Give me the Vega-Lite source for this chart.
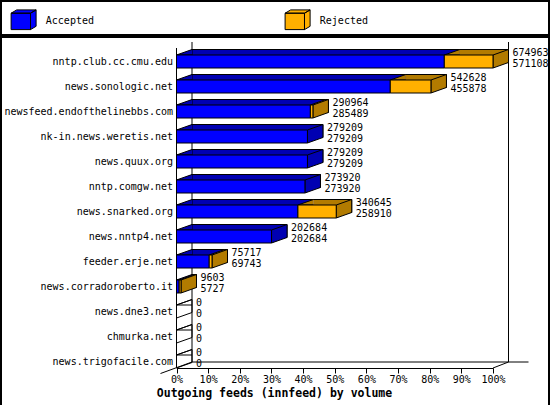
{
  "$schema": "https://vega.github.io/schema/vega-lite/v6.json",
  "padding": 0,
  "spacing": 0,
  "background": "white",
  "config": {
    "view": {"stroke": "black", "strokeWidth": 2},
    "font": "DejaVu Sans Mono",
    "concat": {"spacing": 0}
  },
  "vconcat": [
    {
      "width": 548,
      "height": 34,
      "data": {"values": [{"series": "Accepted"}, {"series": "Rejected"}]},
      "mark": {"type": "point", "filled": true, "opacity": 0},
      "encoding": {
        "x": {"field": "series", "type": "nominal", "axis": null},
        "color": {
          "field": "series",
          "type": "nominal",
          "scale": {"domain": ["Accepted", "Rejected"], "range": ["#0000FF", "#FFB000"]},
          "legend": {
            "title": null,
            "orient": "none",
            "legendX": 14.8,
            "legendY": 15,
            "direction": "horizontal",
            "padding": 0,
            "symbolType": "M-9.7,-8.2 L9.7,-8.2 L9.7,8.2 L-9.7,8.2 Z M-9.7,-8.2 L-4.1,-11.5 L15.3,-11.5 L9.7,-8.2 Z M9.7,-8.2 L15.3,-11.5 L15.3,4.9 L9.7,8.2 Z",
            "symbolSize": 4,
            "labelOffset": 20,
            "columnPadding": 188,
            "labelFont": "DejaVu Sans Mono",
            "labelFontSize": 10,
            "labelColor": "black",
            "symbolOpacity": 1,
            "symbolStrokeColor": "black",
            "symbolStrokeWidth": 1
          }
        }
      }
    },
    {
      "width": 548,
      "height": 369,
      "data": {
        "values": [
          {"host": "nntp.club.cc.cmu.edu", "offered": 674963, "accepted": 571108},
          {"host": "news.sonologic.net", "offered": 542628, "accepted": 455878},
          {"host": "newsfeed.endofthelinebbs.com", "offered": 290964, "accepted": 285489},
          {"host": "nk-in.news.weretis.net", "offered": 279209, "accepted": 279209},
          {"host": "news.quux.org", "offered": 279209, "accepted": 279209},
          {"host": "nntp.comgw.net", "offered": 273920, "accepted": 273920},
          {"host": "news.snarked.org", "offered": 340645, "accepted": 258910},
          {"host": "news.nntp4.net", "offered": 202684, "accepted": 202684},
          {"host": "feeder.erje.net", "offered": 75717, "accepted": 69743},
          {"host": "news.corradoroberto.it", "offered": 9603, "accepted": 5727},
          {"host": "news.dne3.net", "offered": 0, "accepted": 0},
          {"host": "chmurka.net", "offered": 0, "accepted": 0},
          {"host": "news.trigofacile.com", "offered": 0, "accepted": 0}
        ]
      },
      "layer": [
        {
          "data": {"values": [{"lo": 0, "hi": 674963, "first": "nntp.club.cc.cmu.edu", "last": "news.trigofacile.com"}]},
          "mark": {"type": "rule", "color": "black", "strokeWidth": 1, "xOffset": 15.5, "yOffset": -19.5, "y2Offset": 0.5},
          "encoding": {
            "x": {
              "field": "lo",
              "type": "quantitative",
              "scale": {"type": "linear", "domain": [0, 674963], "range": [175.5, 492], "nice": false, "zero": false},
              "axis": {
                "values": [0, 67496.3, 134992.6, 202488.9, 269985.2, 337481.5, 404977.8, 472474.1, 539970.4, 607466.7, 674963],
                "labelExpr": "format(datum.value / 674963 * 100, '.0f') + '%'",
                "offset": -38,
                "grid": false,
                "domain": true,
                "domainColor": "black",
                "domainWidth": 1,
                "ticks": true,
                "tickSize": 5,
                "tickColor": "black",
                "tickWidth": 1,
                "labelFont": "DejaVu Sans Mono",
                "labelFontSize": 10,
                "labelColor": "black",
                "labelPadding": 1,
                "labelFlush": false,
                "labelOverlap": false,
                "title": "Outgoing feeds (innfeed) by volume",
                "titleFont": "DejaVu Sans Mono",
                "titleFontSize": 11.5,
                "titleFontWeight": "bold",
                "titleColor": "black",
                "titleX": 273,
                "titleY": 28.5,
                "titleAlign": "center",
                "titleBaseline": "alphabetic"
              }
            },
            "y": {
              "field": "first",
              "type": "nominal",
              "scale": {
                "type": "band",
                "domain": ["nntp.club.cc.cmu.edu", "news.sonologic.net", "newsfeed.endofthelinebbs.com", "nk-in.news.weretis.net", "news.quux.org", "nntp.comgw.net", "news.snarked.org", "news.nntp4.net", "feeder.erje.net", "news.corradoroberto.it", "news.dne3.net", "chmurka.net", "news.trigofacile.com"],
                "range": [18, 331],
                "paddingInner": 0.48,
                "paddingOuter": 0
              },
              "axis": {
                "title": null,
                "offset": -175.5,
                "domain": false,
                "ticks": false,
                "tickSize": 0,
                "grid": false,
                "labelPadding": 4,
                "labelFont": "DejaVu Sans Mono",
                "labelFontSize": 10,
                "labelColor": "black",
                "labelLimit": 300
              }
            },
            "y2": {"field": "last"}
          }
        },
        {
          "data": {"values": [{"lo": 0, "hi": 674963, "first": "nntp.club.cc.cmu.edu", "last": "news.trigofacile.com"}]},
          "mark": {"type": "rule", "color": "black", "strokeWidth": 1, "xOffset": 15.5, "yOffset": -19.5, "y2Offset": 0.5},
          "encoding": {
            "x": {"field": "hi", "type": "quantitative"},
            "y": {"field": "first", "type": "nominal"},
            "y2": {"field": "last"}
          }
        },
        {
          "data": {"values": [{"lo": 0, "hi": 674963, "first": "nntp.club.cc.cmu.edu", "last": "news.trigofacile.com"}]},
          "mark": {"type": "rule", "color": "black", "strokeWidth": 1, "yOffset": -13.5, "y2Offset": 6.5},
          "encoding": {
            "x": {"field": "lo", "type": "quantitative"},
            "y": {"field": "first", "type": "nominal"},
            "y2": {"field": "last"}
          }
        },
        {
          "data": {"values": [{"lo": 0, "hi": 674963, "first": "nntp.club.cc.cmu.edu", "last": "news.trigofacile.com"}]},
          "mark": {"type": "rule", "color": "black", "strokeWidth": 1, "xOffset": 15.5, "x2Offset": 35.5, "yOffset": 0.5},
          "encoding": {
            "x": {"field": "lo", "type": "quantitative"},
            "x2": {"field": "hi"},
            "y": {"field": "last", "type": "nominal"}
          }
        },
        {
          "data": {"values": [{"lo": 0, "hi": 674963, "first": "nntp.club.cc.cmu.edu", "last": "news.trigofacile.com"}]},
          "mark": {"type": "rule", "color": "black", "strokeWidth": 1, "xOffset": -16, "x2Offset": 15.5, "yOffset": 12, "y2Offset": 0.5},
          "encoding": {
            "x": {"field": "lo", "type": "quantitative"},
            "x2": {"field": "lo"},
            "y": {"field": "last", "type": "nominal"},
            "y2": {"field": "last"}
          }
        },
        {
          "data": {"values": [{"lo": 0, "hi": 674963, "first": "nntp.club.cc.cmu.edu", "last": "news.trigofacile.com"}]},
          "mark": {"type": "rule", "color": "black", "strokeWidth": 1, "x2Offset": 15.5, "yOffset": 6.5, "y2Offset": 0.5},
          "encoding": {
            "x": {"field": "hi", "type": "quantitative"},
            "x2": {"field": "hi"},
            "y": {"field": "last", "type": "nominal"},
            "y2": {"field": "last"}
          }
        },
        {
          "transform": [{"filter": "datum.accepted > 0"}],
          "mark": {"type": "bar", "fill": "#0000B2", "strokeWidth": 0, "xOffset": 15.5, "x2Offset": 15.5, "yOffset": -5.5, "y2Offset": -5.5},
          "encoding": {
            "x": {"field": "accepted", "type": "quantitative"},
            "y": {"field": "host", "type": "nominal"}
          }
        },
        {
          "transform": [{"filter": "datum.offered > datum.accepted"}],
          "mark": {"type": "bar", "fill": "#B27B00", "strokeWidth": 0, "xOffset": 15.5, "x2Offset": 15.5, "yOffset": -5.5, "y2Offset": -5.5},
          "encoding": {
            "x": {"field": "accepted", "type": "quantitative"},
            "x2": {"field": "offered"},
            "y": {"field": "host", "type": "nominal"}
          }
        },
        {
          "transform": [{"filter": "datum.offered > 0"}],
          "mark": {"type": "bar", "fill": "transparent", "stroke": "black", "strokeWidth": 1, "xOffset": 15.5, "x2Offset": 15.5, "yOffset": -5.5, "y2Offset": -5.5},
          "encoding": {
            "x": {"field": "offered", "type": "quantitative"},
            "y": {"field": "host", "type": "nominal"}
          }
        },
        {
          "mark": {"type": "point", "shape": "M15.5,-6.5 L0,-6.5 L15.5,-12", "size": 4, "filled": true, "opacity": 1, "strokeWidth": 1},
          "encoding": {
            "x": {"datum": 0, "type": "quantitative"},
            "y": {"field": "host", "type": "nominal"},
            "fill": {"condition": {"test": "datum.accepted > 0", "value": "#0000B2"}, "value": "transparent"},
            "stroke": {"value": "black"}
          }
        },
        {
          "transform": [{"filter": "datum.offered > datum.accepted"}],
          "mark": {"type": "point", "shape": "M15.5,-6.5 L0,-6.5 L15.5,-12", "size": 4, "filled": true, "opacity": 1, "strokeWidth": 1, "fill": "#B27B00", "stroke": "black"},
          "encoding": {
            "x": {"field": "accepted", "type": "quantitative"},
            "y": {"field": "host", "type": "nominal"}
          }
        },
        {
          "mark": {"type": "point", "shape": "M0,-6.5 L15.5,-12 L15.5,1 L0,6.5 Z", "size": 4, "filled": true, "opacity": 1, "strokeWidth": 1},
          "encoding": {
            "x": {"field": "offered", "type": "quantitative"},
            "y": {"field": "host", "type": "nominal"},
            "fill": {"condition": {"test": "datum.offered > datum.accepted", "value": "#B27B00"}, "value": "#0000B2"},
            "fillOpacity": {"condition": {"test": "datum.offered > 0", "value": 1}, "value": 0},
            "stroke": {"value": "black"}
          }
        },
        {
          "transform": [{"filter": "datum.accepted > 0"}],
          "mark": {"type": "bar", "fill": "#0000FF", "stroke": "black", "strokeWidth": 1},
          "encoding": {
            "x": {"field": "accepted", "type": "quantitative"},
            "y": {"field": "host", "type": "nominal"}
          }
        },
        {
          "transform": [{"filter": "datum.offered > datum.accepted"}],
          "mark": {"type": "bar", "fill": "#FFB000", "stroke": "black", "strokeWidth": 1},
          "encoding": {
            "x": {"field": "accepted", "type": "quantitative"},
            "x2": {"field": "offered"},
            "y": {"field": "host", "type": "nominal"}
          }
        },
        {
          "mark": {"type": "text", "align": "left", "baseline": "middle", "dx": 19.5, "yOffset": -9, "fontSize": 10, "font": "DejaVu Sans Mono", "color": "black"},
          "encoding": {
            "x": {"field": "offered", "type": "quantitative"},
            "y": {"field": "host", "type": "nominal"},
            "text": {"field": "offered", "type": "quantitative", "format": "d"}
          }
        },
        {
          "mark": {"type": "text", "align": "left", "baseline": "middle", "dx": 19.5, "yOffset": 2, "fontSize": 10, "font": "DejaVu Sans Mono", "color": "black"},
          "encoding": {
            "x": {"field": "offered", "type": "quantitative"},
            "y": {"field": "host", "type": "nominal"},
            "text": {"field": "accepted", "type": "quantitative", "format": "d"}
          }
        }
      ]
    }
  ]
}
